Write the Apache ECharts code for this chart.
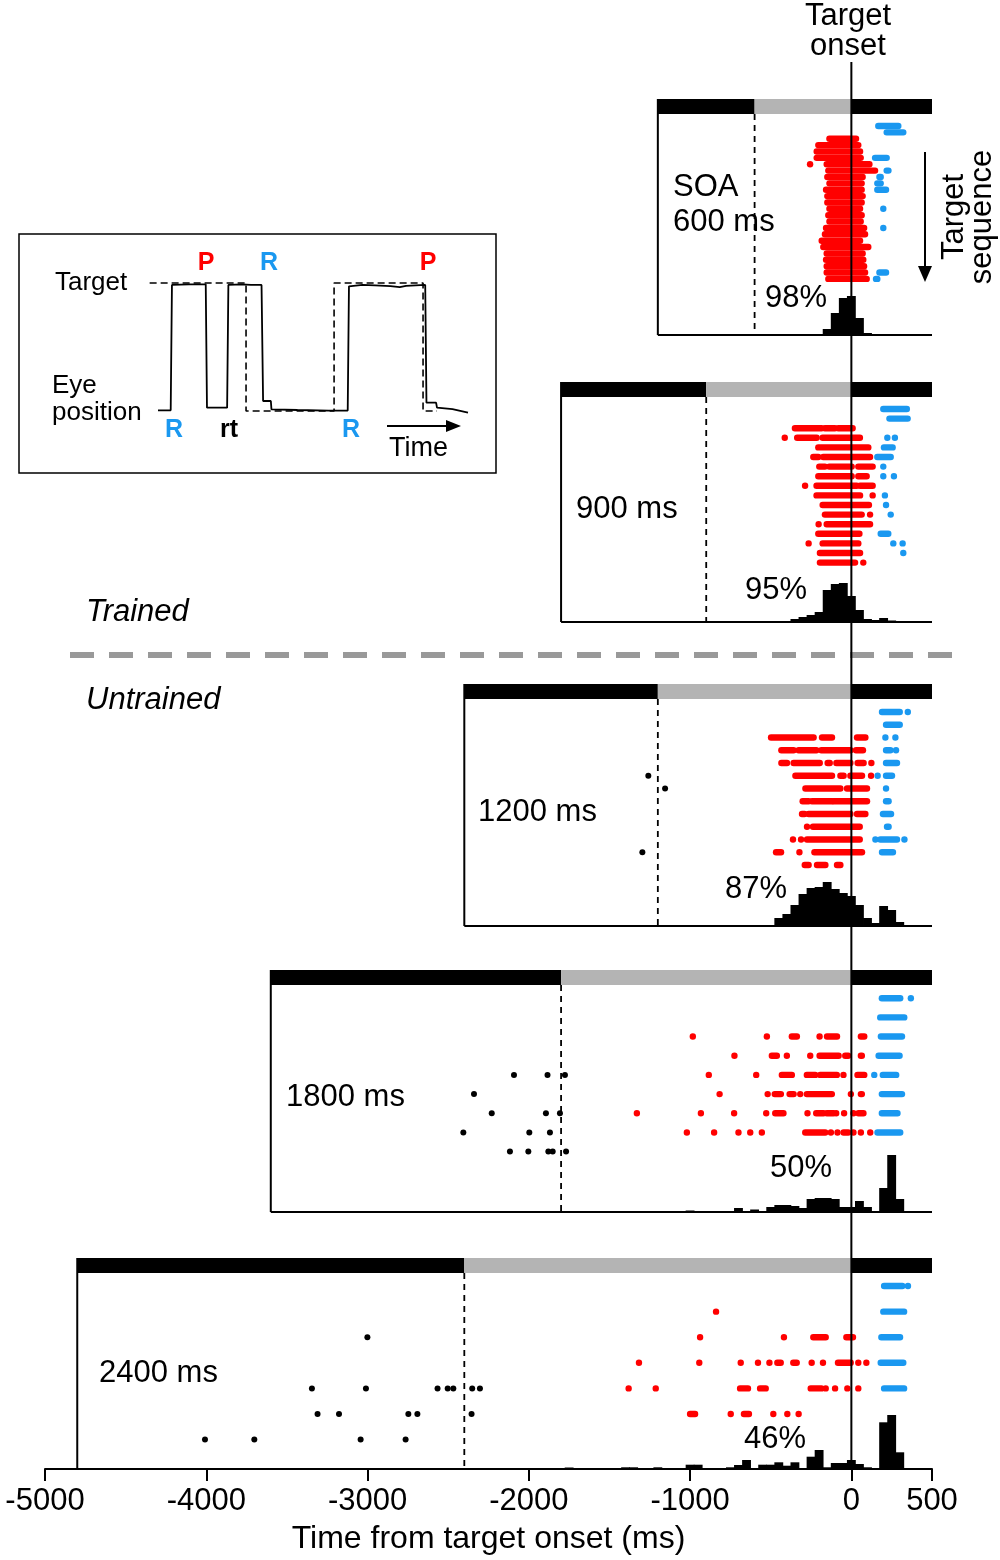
<!DOCTYPE html>
<html><head><meta charset="utf-8">
<script src="https://cdn.jsdelivr.net/npm/echarts@6/dist/echarts.min.js"></script>
<style>html,body{margin:0;padding:0;background:#fff}#c{width:1000px;height:1560px}</style>
</head><body><div id="c"></div>
<script>
// ---------------- DATA ----------------
const soaValues = [600, 900, 1200, 1800, 2400];
const soaLabels = ['SOA\n600 ms', '900 ms', '1200 ms', '1800 ms', '2400 ms'];
const correctPct = ['98%', '95%', '87%', '50%', '46%'];
const axisTicks = [-5000, -4000, -3000, -2000, -1000, 0, 500];
const epochEnd = 500;
const histBinWidth = 50;

// raster runs: [trialRow, startMs, endMs]  (single dot: [trialRow, ms])
const red600 = [[3,-136,29],[4,-205,43],[5,-215,54],[6,-215,58],[7,-256],[7,-153,112],[8,-143,147],[9,-149,70],[10,-136,64],[11,-157,64],[12,-149,70],[13,-149,64],[14,-136,54],[15,-143,64],[16,-136,58],[17,-157,79],[18,-164,85],[19,-184,54],[20,-174,105],[21,-153,70],[22,-157,74],[23,-153,79],[24,-153,85],[25,-143,95]];
const blue600 = [[1,167,291],[2,219,322],[6,147,219],[8,219,230],[9,174,182],[10,161,182],[11,161,215],[14,198],[17,198],[24,174,215],[25,153,161]];
const black600 = [];

const red900 = [[3,-350,-185],[3,-164,-102],[3,-81,8],[4,-413],[4,-336,-215],[4,-178,53],[5,-205,105],[6,-236,-205],[6,-174,116],[7,-199,-164],[7,-137,2],[7,43,132],[8,-205,2],[8,43,95],[9,-287],[9,-216,33],[9,54,132],[10,-216,54],[10,132],[11,-178,109],[12,-164,64],[12,116],[13,-203],[13,-153,116],[14,-205,50],[15,-265],[15,-178,43],[16,-195,54],[17,-195,23],[17,74]];
const blue900 = [[1,198,344],[2,236,349],[4,223],[4,270],[5,202,256],[6,161,244],[7,198],[8,198],[8,264],[10,208],[11,215],[12,244],[14,182,229],[15,260],[15,318],[16,322]];
const black900 = [];

const red1200 = [[3,-498,-234],[3,-182,-120],[3,35,87],[4,-434,-358],[4,-327,-217],[4,-186,-6],[4,29,72],[5,-434,-399],[5,-358,-196],[5,-147,-134],[5,-93,-6],[5,39,76],[5,124],[6,-347,-120],[6,-68,-48],[6,-6,66],[6,122],[7,-285,-68],[7,-27,97],[8,-302,-265],[8,-244,-120],[8,-110,-6],[8,8,97],[9,-306,-291],[9,-265,-6],[9,35,87],[10,-275],[10,-238,52],[11,-362],[11,-312],[11,-275,52],[12,-467,-436],[12,-322],[12,-229,66],[13,-289,-265],[13,-213,-161],[13,-89,-68]];
const blue1200 = [[1,190,300],[1,350],[2,215,300],[3,211],[3,273],[4,215,242],[4,277],[5,215,283],[6,163],[6,215,252],[7,215],[8,215,231],[9,196,246],[10,221,231],[11,149],[11,180,283],[11,329],[12,190,258]];
const black1200 = [[6,-1259],[7,-1155],[12,-1296]];

const red1800 = [[3,-983],[3,-524],[3,-369,-338],[3,-197],[3,-151,-89],[3,59,80],[4,-725],[4,-493,-462],[4,-400],[4,-255],[4,-197,-79],[4,-38,-20],[4,59,65],[5,-884],[5,-590],[5,-431,-369],[5,-276,-224],[5,-193,-90],[5,-49],[5,38,80],[6,-817],[6,-519],[6,-475,-437],[6,-383,-358],[6,-317],[6,-276,-121],[6,-3],[6,59,65],[7,-1330],[7,-933],[7,-727],[7,-528],[7,-472,-421],[7,-272],[7,-218,-173],[7,-152,-111],[7,-94],[7,-45],[7,13],[7,44,75],[8,-1020],[8,-851],[8,-700],[8,-627],[8,-555],[8,-286,-162],[8,-127],[8,-86],[8,-48,-20],[8,13],[8,59],[8,117]];
const blue1800 = [[1,189,303],[1,369],[2,179,328],[3,183,314],[4,169,299],[5,142],[5,195,278],[6,189,314],[7,189,286],[8,162,303]];
const black1800 = [[5,-2092],[5,-1884],[5,-1776],[6,-2340],[7,-2230],[7,-1894],[7,-1807],[8,-2406],[8,-1997],[8,-1869],[9,-2117],[9,-2003],[9,-1879],[9,-1852],[9,-1769]];

const red2400 = [[2,-839],[3,-938],[3,-418],[3,-236,-159],[3,-31,10],[4,-1317],[4,-943],[4,-686],[4,-579],[4,-508],[4,-459,-438],[4,-360,-339],[4,-246],[4,-176],[4,-83,-4],[4,43],[4,93],[5,-1381],[5,-1213],[5,-690,-641],[5,-566,-531],[5,-252,-186],[5,-159],[5,-101],[5,-25],[5,43],[6,-1000,-969],[6,-748],[6,-666,-635],[6,-484],[6,-397],[6,-327]];
const blue2400 = [[1,203,316],[1,351],[2,198,327],[3,186,302],[4,182,322],[5,203,327]];
const black2400 = [[3,-3001],[5,-3345],[5,-3010],[5,-2566],[5,-2503],[5,-2468],[5,-2351],[5,-2303],[6,-3310],[6,-3177],[6,-2747],[6,-2691],[6,-2355],[7,-4008],[7,-3702],[7,-3043],[7,-2764]];

// histograms: [binCenterMs, count]
const hist600 = [[-150,6],[-100,22],[-50,37],[0,39],[50,17],[100,2],[200,0.7]];
const hist900 = [[-350,3],[-300,5],[-250,7],[-200,10],[-150,32],[-100,38],[-50,39],[0,26],[50,12],[100,3],[150,2],[200,4],[250,1.5]];
const hist1200 = [[-450,8],[-400,12],[-350,21],[-300,32],[-250,38],[-200,39],[-150,44],[-100,37],[-50,33],[0,30],[50,21],[100,8],[150,3],[200,20],[250,16],[300,4]];
const hist1800 = [[-1350,0.7],[-1000,1.5],[-700,4],[-600,2.5],[-500,5],[-450,7],[-400,7],[-350,6],[-300,4],[-250,13],[-200,14],[-150,14],[-100,13],[-50,5],[0,5],[50,11],[100,5],[200,24],[250,57],[300,13]];
const hist2400 = [[-1750,1.5],[-1650,1],[-1400,1.7],[-1350,1.7],[-1200,1.7],[-1000,4.3],[-950,4.3],[-750,1.7],[-700,4],[-650,9],[-550,4.3],[-500,4.3],[-450,6.7],[-400,3.3],[-350,6.7],[-250,12.3],[-200,19],[-150,1.7],[-100,6],[-50,6],[0,9],[50,5],[100,1.7],[200,46.7],[250,54],[300,16.7]];

// inset schematic: [time (a.u.), position (0 = rest, 1 = target)]
const eyeTrace = [[0,0.005],[4.1,0.005],[4.5,0.985],[10,0.99],[15.4,0.99],[15.8,0.026],[22.3,0.026],[22.7,0.985],[27,0.99],[30,0.985],[33.4,0.985],[33.9,0.078],[36.4,0.078],[36.6,0.013],[45,0.008],[55,0.003],[61.2,0.003],[61.6,0.974],[66,0.985],[70,0.982],[75,0.975],[78,0.968],[80,0.978],[86.2,0.985],[86.6,0.065],[89.7,0.065],[90,0.026],[95,0.015],[100,-0.012]];
const targetTrace = [[-2.7,1],[28.4,1],[28.4,0],[56.8,0],[56.8,1],[85.5,1],[85.5,0],[90,0]];

// ---------------- LAYOUT / STYLE ----------------
const FONT = 'Liberation Sans, Arial, Helvetica, sans-serif';
const RED = '#ff0000', BLUE = '#1a98f0', GRAY = '#b4b4b4';
const DOT = 6.4, BLACK_DOT = 6, BAR_H = 15;
const panelLayout = [
  {top:114, bottom:1225, rowMin:-0.88, rowMax:33.8, lx:673, ly:205, px:765, py:298},
  {top:397, bottom:938,  rowMin:-0.25, rowMax:23.19, lx:576, ly:509, px:745, py:590},
  {top:699, bottom:634,  rowMin:-0.02, rowMax:17.78, lx:478, ly:812, px:725, py:889},
  {top:985, bottom:348,  rowMin:0.31,  rowMax:12.15, lx:286, ly:1097, px:770, py:1168},
  {top:1273, bottom:91,  rowMin:0.49,  rowMax:8.15,  lx:99,  ly:1373, px:744, py:1439}
];
const rasters = [
  {red:red600, blue:blue600, black:black600},
  {red:red900, blue:blue900, black:black900},
  {red:red1200, blue:blue1200, black:black1200},
  {red:red1800, blue:blue1800, black:black1800},
  {red:red2400, blue:blue2400, black:black2400}
];
const hists = [hist600, hist900, hist1200, hist1800, hist2400];

const norm = arr => arr.map(d => d.length === 2 ? [d[0], d[1], d[1]] : d);

function dotRenderer(color, size) {
  return function (params, api) {
    const r = size / 2;
    const p0 = api.coord([api.value(1), api.value(0)]);
    const p1 = api.coord([api.value(2), api.value(0)]);
    return {type:'rect', shape:{x:p0[0]-r, y:p0[1]-r, width:p1[0]-p0[0]+2*r, height:2*r, r:r}, style:{fill:color}};
  };
}
function histRenderer(params, api) {
  const c = api.value(0), h = api.value(1);
  const p0 = api.coord([c - histBinWidth/2, h]);
  const p1 = api.coord([c + histBinWidth/2, 0]);
  return {type:'rect', shape:{x:p0[0]-0.4, y:p0[1], width:p1[0]-p0[0]+0.8, height:p1[1]-p0[1]}, style:{fill:'#000'}};
}
function epochRenderer(params, api) {
  const cs = params.coordSys;
  const x0 = api.coord([api.value(0), 0])[0];
  const x1 = api.coord([api.value(1), 0])[0];
  return {type:'rect', shape:{x:x0, y:cs.y - BAR_H, width:x1-x0, height:BAR_H}, style:{fill: api.value(2) ? GRAY : '#000'}};
}
function frameRenderer(drawBottom) {
  return function (params, api) {
    const cs = params.coordSys;
    const x = api.coord([api.value(0), 0])[0];
    const yb = cs.y + cs.height;
    const children = [{type:'line', shape:{x1:x, y1:cs.y - BAR_H, x2:x, y2:yb}, style:{stroke:'#000', lineWidth:2}}];
    if (drawBottom) children.push({type:'line', shape:{x1:x, y1:yb, x2:cs.x + cs.width, y2:yb}, style:{stroke:'#000', lineWidth:2}});
    return {type:'group', children};
  };
}
function soaRenderer(params, api) {
  const cs = params.coordSys;
  const x = api.coord([api.value(0), 0])[0];
  return {type:'line', shape:{x1:x, y1:cs.y, x2:x, y2:cs.y + cs.height}, style:{stroke:'#000', lineWidth:1.8, lineDash:[6,5]}};
}

const grids = [], xAxes = [], yAxes = [], series = [];
panelLayout.forEach((L, i) => {
  const soa = soaValues[i];
  const gh = 1560 - L.top - L.bottom;
  grids.push({left:45, right:68, top:L.top, bottom:L.bottom});
  const last = i === 4;
  xAxes.push({
    gridIndex:i, type:'value', min:-5000, max:500, show:last,
    axisLine:{show:true, onZero:false, lineStyle:{color:'#000', width:2}},
    axisTick:{show:true, inside:false, length:12, customValues:axisTicks, lineStyle:{color:'#000', width:2}},
    axisLabel:{show:true, customValues:axisTicks, color:'#000', fontSize:31, fontFamily:FONT, margin:17,
      formatter: v => String(v)},
    splitLine:{show:false},
    name: last ? 'Time from target onset (ms)' : '', nameLocation:'middle', nameGap:54,
    nameTextStyle:{color:'#000', fontSize:32, fontFamily:FONT}
  });
  yAxes.push({gridIndex:i, type:'value', inverse:true, min:L.rowMin, max:L.rowMax, show:false});
  yAxes.push({gridIndex:i, type:'value', min:0, max:gh, show:false});
  const rowAx = 2*i, histAx = 2*i + 1;
  series.push({type:'custom', xAxisIndex:i, yAxisIndex:histAx, renderItem:epochRenderer, silent:true,
    data:[[-2*soa, -soa, 0], [-soa, 0, 1], [0, epochEnd, 0]], encode:{x:[0,1], y:2}, z:3});
  series.push({type:'custom', xAxisIndex:i, yAxisIndex:histAx, renderItem:frameRenderer(!last), silent:true,
    data:[[-2*soa, 0]], z:3});
  series.push({type:'custom', xAxisIndex:i, yAxisIndex:histAx, renderItem:soaRenderer, silent:true,
    data:[[-soa, 0]], z:2});
  series.push({type:'custom', xAxisIndex:i, yAxisIndex:histAx, renderItem:histRenderer, silent:true,
    data:hists[i], z:4});
  const R = rasters[i];
  [['red', RED, DOT], ['blue', BLUE, DOT], ['black', '#000', BLACK_DOT]].forEach(([k, col, sz]) => {
    if (!R[k].length) return;
    series.push({type:'custom', xAxisIndex:i, yAxisIndex:rowAx, renderItem:dotRenderer(col, sz), silent:true,
      data:norm(R[k]), encode:{x:[1,2], y:0}, z:5});
  });
});

// overlay grid for the target-onset line
grids.push({left:45, right:68, top:62, bottom:91});
xAxes.push({gridIndex:5, type:'value', min:-5000, max:500, show:false});
yAxes.push({gridIndex:5, type:'value', min:0, max:1, show:false});
series.push({type:'custom', xAxisIndex:5, yAxisIndex:10, silent:true, z:20, data:[[0, 0]],
  renderItem:function (params, api) {
    const cs = params.coordSys; const x = api.coord([api.value(0), 0])[0];
    return {type:'line', shape:{x1:x, y1:cs.y, x2:x, y2:cs.y + cs.height}, style:{stroke:'#000', lineWidth:2}};
  }});

// inset grid
grids.push({left:148.7, right:532, top:283, bottom:1149});
xAxes.push({gridIndex:6, type:'value', min:-3, max:100, show:false});
yAxes.push({gridIndex:6, type:'value', min:0, max:1, show:false});
series.push({type:'line', xAxisIndex:6, yAxisIndex:11, data:targetTrace, symbol:'none', clip:false, silent:true,
  lineStyle:{color:'#000', width:1.6, type:[7,4]}, z:6});
series.push({type:'line', xAxisIndex:6, yAxisIndex:11, data:eyeTrace, symbol:'none', clip:false, silent:true,
  lineStyle:{color:'#000', width:1.8}, z:7});

// ---------------- TEXT / DECORATION ----------------
function txt(text, x, y, opt) {
  opt = opt || {};
  return {type:'text', silent:true, z:30, style:{
    text, x, y, fill: opt.fill || '#000',
    font: (opt.italic ? 'italic ' : '') + (opt.bold ? 'bold ' : '') + (opt.size || 31) + 'px ' + FONT,
    textAlign: opt.align || 'left', align: opt.align || 'left',
    textVerticalAlign:'middle', verticalAlign:'middle', lineHeight: opt.lh || 35
  }, rotation: opt.rot || 0};
}
const graphic = [
  txt('Target', 848, 16, {align:'center'}),
  txt('onset', 848, 46, {align:'center'}),
  txt('Trained', 86, 612, {italic:true}),
  txt('Untrained', 86, 700, {italic:true}),
  {type:'line', silent:true, shape:{x1:70, y1:655, x2:966, y2:655}, style:{stroke:'#999', lineWidth:6, lineDash:[24,15]}},
  // target sequence arrow
  {type:'line', silent:true, shape:{x1:925, y1:152, x2:925, y2:270}, style:{stroke:'#000', lineWidth:2}},
  {type:'polygon', silent:true, shape:{points:[[918,266],[932,266],[925,282]]}, style:{fill:'#000'}},
  {type:'text', silent:true, x:968, y:217, rotation:Math.PI/2, style:{text:'Target\nsequence', x:0, y:0,
    font:'31px ' + FONT, fill:'#000', textAlign:'center', align:'center', textVerticalAlign:'middle', verticalAlign:'middle', lineHeight:28}},
  // inset box + labels
  {type:'rect', silent:true, shape:{x:19, y:234, width:477, height:239}, style:{fill:'none', stroke:'#000', lineWidth:1.5}},
  txt('Target', 55, 283, {size:26}),
  txt('Eye', 52, 386, {size:26}),
  txt('position', 52, 413, {size:26}),
  txt('P', 206, 263, {size:25, bold:true, fill:RED, align:'center'}),
  txt('R', 269, 263, {size:25, bold:true, fill:BLUE, align:'center'}),
  txt('P', 428, 263, {size:25, bold:true, fill:RED, align:'center'}),
  txt('R', 174, 430, {size:25, bold:true, fill:BLUE, align:'center'}),
  txt('rt', 229, 430, {size:25, bold:true, align:'center'}),
  txt('R', 351, 430, {size:25, bold:true, fill:BLUE, align:'center'}),
  {type:'line', silent:true, shape:{x1:387, y1:426, x2:448, y2:426}, style:{stroke:'#000', lineWidth:2}},
  {type:'polygon', silent:true, shape:{points:[[446,420],[446,432],[461,426]]}, style:{fill:'#000'}},
  txt('Time', 389, 449, {size:27})
];
panelLayout.forEach((L, i) => {
  graphic.push(txt(soaLabels[i], L.lx, L.ly));
  graphic.push(txt(correctPct[i], L.px, L.py));
});

const chart = echarts.init(document.getElementById('c'), null, {renderer:'canvas'});
chart.setOption({
  animation:false,
  backgroundColor:'#fff',
  textStyle:{fontFamily:FONT},
  grid:grids, xAxis:xAxes, yAxis:yAxes, series, graphic
});
</script></body></html>
